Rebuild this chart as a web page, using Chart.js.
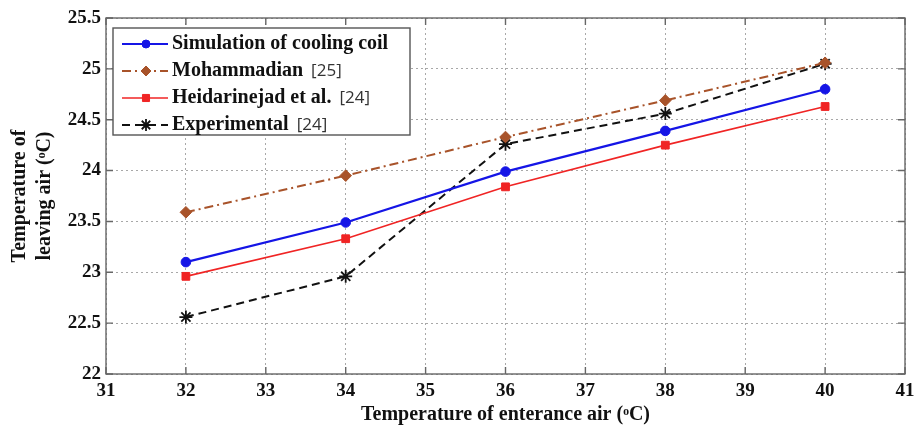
<!DOCTYPE html>
<html><head><meta charset="utf-8">
<script src="https://cdn.jsdelivr.net/npm/chart.js@4/dist/chart.umd.min.js"></script>
<style>html,body{margin:0;padding:0;background:#fff}#wrap{width:914px;height:430px}</style>
</head><body><div id="wrap"><canvas id="c" width="914" height="430"></canvas></div>
<script>
const entranceTemps = [32, 34, 36, 38, 40];
const simulation = [23.10, 23.49, 23.99, 24.39, 24.80];
const mohammadian = [23.59, 23.95, 24.33, 24.69, 25.06];
const heidarinejad = [22.96, 23.33, 23.84, 24.25, 24.63];
const experimental = [22.56, 22.96, 24.26, 24.56, 25.05];
const seriesNames = ['Simulation of cooling coil', 'Mohammadian', 'Heidarinejad et al.', 'Experimental'];
const seriesRefs = ['', '[25]', '[24]', '[24]'];
const xTitle = 'Temperature of enterance air (\u1D52C)';
const yTitle = ['Temperature of', 'leaving air (\u1D52C)'];

const serif = '"Liberation Serif", "Times New Roman", serif';
const pts = arr => entranceTemps.map((x, i) => ({x, y: arr[i]}));

const datasets = [
  {label: seriesNames[0], data: pts(simulation), borderColor: '#1515e6', backgroundColor: '#1515e6',
   borderWidth: 2.2, pointStyle: 'circle', pointRadius: 4.8, pointBorderWidth: 1, legendRadius: 4},
  {label: seriesNames[1], data: pts(mohammadian), borderColor: '#a8532a', backgroundColor: '#a8532a',
   borderWidth: 2, borderDash: [9, 4, 2, 4], pointStyle: 'rectRot', pointRadius: 5.8, pointBorderWidth: 1, legendRadius: 5},
  {label: seriesNames[2], data: pts(heidarinejad), borderColor: '#f02424', backgroundColor: '#f02424',
   borderWidth: 1.6, pointStyle: 'rect', pointRadius: 5.5, pointBorderWidth: 1, legendRadius: 5},
  {label: seriesNames[3], data: pts(experimental), borderColor: '#111', backgroundColor: '#111',
   borderWidth: 2, borderDash: [8, 5], pointStyle: 'star', pointRadius: 6.5, pointBorderWidth: 1.8, legendRadius: 6}
];

const decor = {
  id: 'decor',
  afterDraw(chart) {
    const ctx = chart.ctx, a = chart.chartArea;
    ctx.save();
    ctx.strokeStyle = '#666'; ctx.lineWidth = 1.4; ctx.setLineDash([]);
    ctx.strokeRect(a.left, a.top, a.right - a.left, a.bottom - a.top);
    const xs = chart.scales.x, ys = chart.scales.y;
    ctx.beginPath();
    xs.ticks.forEach(t => { const px = xs.getPixelForValue(t.value);
      ctx.moveTo(px, a.bottom); ctx.lineTo(px, a.bottom - 7); ctx.moveTo(px, a.top); ctx.lineTo(px, a.top + 7); });
    ys.ticks.forEach(t => { const py = ys.getPixelForValue(t.value);
      ctx.moveTo(a.left, py); ctx.lineTo(a.left + 7, py); ctx.moveTo(a.right, py); ctx.lineTo(a.right - 7, py); });
    ctx.stroke();
    // y title
    ctx.fillStyle = '#111'; ctx.font = 'bold 20px ' + serif;
    ctx.textAlign = 'center'; ctx.textBaseline = 'middle';
    yTitle.forEach((line, i) => {
      ctx.save(); ctx.translate(20 + i * 25, 196); ctx.rotate(-Math.PI / 2);
      ctx.fillText(line, 0, 0); ctx.restore();
    });
    // legend
    const lx = 113, ly = 28, lw = 297, lh = 107;
    ctx.fillStyle = '#fff'; ctx.fillRect(lx, ly, lw, lh);
    ctx.strokeStyle = '#555'; ctx.lineWidth = 1.4; ctx.strokeRect(lx, ly, lw, lh);
    const rows = [44, 71, 98, 125];
    chart.data.datasets.forEach((ds, i) => {
      const y = rows[i];
      ctx.save();
      ctx.strokeStyle = ds.borderColor; ctx.lineWidth = ds.borderWidth;
      ctx.setLineDash(ds.borderDash || []);
      ctx.beginPath(); ctx.moveTo(122, y); ctx.lineTo(168, y); ctx.stroke();
      ctx.setLineDash([]);
      ctx.fillStyle = ds.backgroundColor; ctx.strokeStyle = ds.borderColor; ctx.lineWidth = ds.pointBorderWidth;
      Chart.helpers.drawPoint(ctx, {pointStyle: ds.pointStyle, radius: ds.legendRadius, borderWidth: ds.pointBorderWidth, rotation: 0}, 146, y);
      ctx.restore();
      ctx.fillStyle = '#111'; ctx.textAlign = 'left'; ctx.textBaseline = 'middle';
      ctx.font = 'bold 20px ' + serif;
      const name = seriesNames[i];
      ctx.fillText(name, 172, y);
      if (seriesRefs[i]) {
        const w = ctx.measureText(name).width;
        ctx.font = '17px "Open Sans", "DejaVu Sans", sans-serif'; ctx.fillStyle = '#333';
        ctx.fillText(seriesRefs[i], 172 + w + 8, y);
      }
    });
    ctx.restore();
  }
};

new Chart(document.getElementById('c'), {
  type: 'line',
  data: {datasets},
  options: {
    responsive: false, animation: false,
    layout: {padding: {left: 10, right: 9, top: 18, bottom: 0}},
    plugins: {legend: {display: false}, tooltip: {enabled: false}},
    scales: {
      x: {type: 'linear', min: 31, max: 41,
        ticks: {stepSize: 1, color: '#111', font: {family: serif, size: 19, weight: 'bold'}, padding: 6, maxRotation: 0},
        grid: {color: '#a8a8a8', lineWidth: 1, tickLength: 0},
        border: {display: false, dash: [2, 3]},
        title: {display: true, text: xTitle, color: '#111', font: {family: serif, size: 20, weight: 'bold'}, padding: {top: 4, bottom: 3}},
        afterFit: s => { s.height = 56; s.paddingRight = 0; s.paddingLeft = 0; }
      },
      y: {type: 'linear', min: 22, max: 25.5,
        ticks: {stepSize: 0.5, color: '#111', font: {family: serif, size: 19, weight: 'bold'}, padding: 5,
          callback: v => String(v)},
        grid: {color: '#a8a8a8', lineWidth: 1, tickLength: 0},
        border: {display: false, dash: [2, 3]},
        afterFit: s => { s.width = 96; s.paddingTop = 0; s.paddingBottom = 0; }
      }
    }
  },
  plugins: [decor]
});
</script>
</body></html>
